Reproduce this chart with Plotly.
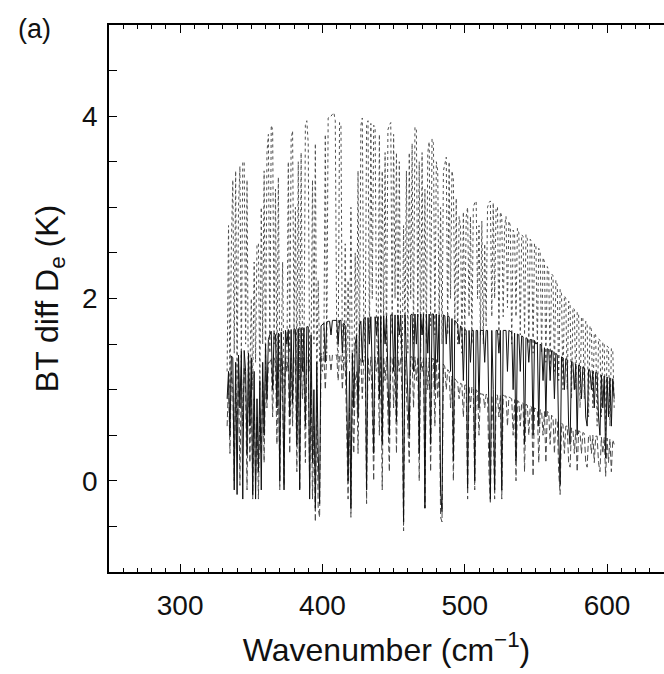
import plotly.graph_objects as go

# Spectral sample grid (cm^-1), 1 cm^-1 spacing from 333 to 605
wavenumber = list(range(333, 606))

# Dotted series
bt_dotted = [
    1.2, 2.8, 1.0, 2.6, 3.3, 1.4, 3.4, 1.1, 3.0, 3.45,   # 333-342
    1.3, 3.5, 3.5, 1.5, 3.3, 0.8, 1.2, 2.0, 1.0, 2.4,    # 343-352
    1.3, 2.6, 2.6, 1.0, 3.0, 1.5, 3.4, 1.2, 3.6, 3.8,    # 353-362
    1.4, 3.9, 3.85, 1.5, 3.2, 1.1, 3.33, 1.2, 1.3, 2.4,  # 363-372
    1.0, 1.3, 1.2, 3.5, 1.4, 3.75, 3.84, 1.6, 3.0, 1.2,  # 373-382
    3.5, 1.1, 3.6, 1.4, 1.3, 3.9, 3.95, 3.7, 1.2, 1.4,   # 383-392
    3.3, 1.5, 3.7, 1.0, 2.2, 1.3, 1.4, 1.2, 1.5, 3.8,    # 393-402
    1.4, 3.98, 4.0, 4.0, 4.02, 4.04, 3.95, 1.6, 1.3, 3.93,  # 403-412
    3.9, 1.3, 1.2, 2.6, 1.1, 2.2, 1.3, 3.0, 1.2, 1.0,    # 413-422
    2.5, 1.4, 3.4, 1.2, 3.9, 3.98, 1.8, 1.4, 3.9, 3.95,  # 423-432
    1.5, 3.92, 2.0, 3.9, 3.88, 1.6, 1.3, 3.8, 1.5, 3.4,  # 433-442
    1.7, 3.6, 1.4, 3.85, 3.9, 3.93, 1.6, 3.8, 2.0, 3.6,  # 443-452
    1.4, 3.5, 1.5, 1.3, 2.8, 1.6, 3.4, 1.4, 3.6, 2.0,    # 453-462
    3.7, 1.5, 3.88, 3.85, 1.8, 3.5, 1.4, 3.6, 1.6, 3.2,  # 463-472
    1.5, 3.6, 3.72, 1.7, 3.75, 3.7, 1.6, 3.5, 3.4, 1.7,  # 473-482
    3.0, 1.5, 3.4, 3.5, 3.55, 1.6, 3.5, 2.0, 3.4, 3.3,   # 483-492
    1.7, 3.1, 1.5, 2.9, 2.8, 1.4, 2.95, 1.6, 2.9, 3.0,   # 493-502
    1.8, 2.9, 1.5, 3.0, 3.05, 3.07, 2.0, 2.8, 1.6, 2.85, # 503-512
    1.5, 2.6, 1.7, 3.0, 3.05, 3.07, 1.8, 3.05, 2.0, 3.0, # 513-522
    3.0, 1.6, 2.95, 2.9, 1.8, 2.8, 2.9, 1.9, 2.85, 2.8,  # 523-532
    1.5, 2.75, 2.7, 1.8, 2.77, 2.72, 1.6, 2.7, 2.68, 1.6,  # 533-542
    2.7, 2.65, 1.5, 2.65, 2.62, 1.4, 2.6, 2.58, 1.5, 2.55,  # 543-552
    2.5, 1.4, 2.45, 2.4, 1.3, 2.35, 2.3, 1.2, 2.27, 2.25,  # 553-562
    1.2, 2.2, 2.15, 1.1, 2.1, 2.05, 1.0, 2.03, 2.0, 1.0,   # 563-572
    1.97, 1.94, 0.9, 1.9, 1.88, 1.0, 1.85, 1.83, 0.8, 1.8, # 573-582
    1.78, 0.9, 1.75, 1.72, 0.7, 1.7, 1.66, 0.8, 1.62, 1.6, # 583-592
    0.6, 1.56, 1.54, 0.7, 1.52, 1.5, 0.5, 1.48, 1.46, 0.6, # 593-602
    1.45, 1.44, 0.8,                                       # 603-605
]

# Solid series
bt_solid = [
    0.9, 1.2, 0.5, 1.37, 1.35, -0.1, 1.3, -0.15, 1.38, 0.8,   # 333-342
    1.42, -0.2, 1.43, 1.2, 0.3, 1.4, 0.6, 1.35, -0.15, 1.2,   # 343-352
    -0.2, 0.9, 0.1, 1.1, -0.1, 1.3, 0.5, 1.5, 0.9, 1.55,      # 353-362
    1.6, 1.64, 1.0, 1.62, 1.6, 0.8, 1.62, 0.0, 1.63, 1.2,     # 363-372
    -0.1, 1.65, 1.5, 1.66, 0.7, 1.66, 0.85, 1.67, 1.66, 0.4,  # 373-382
    1.67, -0.1, 1.68, 1.2, 1.68, 0.6, 1.69, 1.69, -0.2, 1.6,  # 383-392
    0.2, 1.0, -0.3, 1.3, 0.3, -0.25, 1.7, 1.72, 1.73, 1.3,    # 393-402
    1.74, 1.75, 1.75, 1.6, 1.76, 1.76, 1.76, 1.76, 1.5, 1.76, # 403-412
    1.76, 1.4, 1.73, 1.7, 1.0, 0.0, 1.2, -0.3, 1.4, 0.8,      # 413-422
    1.5, 1.6, 0.7, 1.7, 1.75, 1.3, 1.78, 1.79, -0.1, 1.79,    # 423-432
    1.5, 1.8, 1.2, 0.3, 1.8, 1.6, 1.8, 0.9, 1.8, 0.4,         # 433-442
    1.81, 1.5, 1.81, 1.0, 0.5, 1.82, 1.82, 1.2, 1.82, 0.65,   # 443-452
    1.82, 1.6, 1.82, 1.3, -0.45, 1.82, 1.4, 1.0, 0.5, 1.82,   # 453-462
    1.83, 1.2, 1.83, 1.5, 1.83, 0.3, 1.83, 1.6, 1.83, -0.3,   # 463-472
    1.83, 1.4, 1.83, 0.4, 1.83, 1.83, 1.0, 1.83, 1.3, 1.82,   # 473-482
    -0.1, -0.34, 1.82, 1.81, 1.5, 1.81, 1.8, 1.2, 1.78, 0.22, # 483-492
    1.76, 1.74, 1.72, 1.5, 1.7, 1.68, 1.1, 1.66, 1.65, -0.08, # 493-502
    1.65, 1.3, 1.65, 1.65, 0.0, 1.65, 1.65, 0.8, 1.65, 1.65,  # 503-512
    1.65, 1.3, 1.65, 1.65, 0.4, -0.2, 1.65, 1.0, -0.1, 1.65,  # 513-522
    1.65, 1.4, 1.65, -0.1, 1.65, 1.65, 1.65, 1.2, 1.65, 1.64, # 523-532
    1.63, 1.0, 1.62, 0.22, 1.61, 1.6, 1.2, 1.59, 1.58, 0.4,   # 533-542
    1.57, 1.56, 1.3, 1.55, 1.55, 0.5, 1.54, 1.5, 1.52, 0.6,   # 543-552
    1.5, 1.48, 1.1, 1.46, 0.7, 1.45, 1.44, 1.1, 1.43, 1.42,   # 553-562
    0.9, 1.4, 1.38, 0.5, -0.04, 1.36, 1.35, 1.0, 1.34, 1.33,  # 563-572
    0.6, 0.4, 1.31, 1.3, 1.0, 1.28, 0.5, 1.27, 1.26, 0.9,     # 573-582
    1.25, 1.24, 0.7, 0.6, 1.22, 1.21, 1.0, 1.2, 0.8, 1.19,    # 583-592
    1.18, 0.7, 0.5, 1.16, 0.8, 1.15, 0.25, 1.14, 0.7, 1.13,   # 593-602
    0.6, 1.12, 0.9,                                           # 603-605
]

# Dashed series
bt_dashed = [
    0.6, 1.1, 0.3, 1.2, 1.0, 0.0, 1.2, 0.5, 1.25, -0.05,      # 333-342
    1.25, 0.6, 1.25, 1.0, -0.1, 1.2, 0.2, 1.1, -0.2, 0.9,     # 343-352
    0.0, 0.7, -0.2, 0.8, 0.3, 1.1, 0.2, 1.2, 0.8, 1.3,        # 353-362
    1.3, 1.35, 0.7, 1.35, 1.3, 0.4, 1.35, -0.1, 1.35, 0.9,    # 363-372
    -0.05, 1.35, 1.2, 1.35, 0.3, 1.35, 0.6, 1.35, 1.35, 0.1,  # 373-382
    1.35, -0.1, 1.35, 0.9, 1.35, 0.2, 1.35, 1.35, -0.1, 1.2,  # 383-392
    -0.2, 0.6, -0.45, 1.0, -0.3, -0.4, 1.35, 1.38, 1.38, 1.0, # 393-402
    1.38, 1.38, 1.38, 1.2, 1.38, 1.38, 1.38, 1.38, 1.1, 1.38, # 403-412
    1.38, 1.0, 1.36, 1.3, 0.6, -0.2, 0.8, -0.4, 1.0, 0.3,     # 413-422
    1.1, 1.2, 0.3, 1.3, 1.35, 0.9, 1.36, 1.36, -0.25, 1.36,   # 423-432
    1.1, 1.36, 0.8, 0.0, 1.36, 1.2, 1.36, 0.5, 1.36, -0.1,    # 433-442
    1.36, 1.1, 1.36, 0.6, 0.1, 1.36, 1.36, 0.8, 1.36, 0.3,    # 443-452
    1.36, 1.2, 1.36, 0.9, -0.55, 1.36, 1.0, 0.6, 0.2, 1.36,   # 453-462
    1.36, 0.8, 1.36, 1.1, 1.36, 0.0, 1.36, 1.2, 1.35, -0.3,   # 463-472
    1.35, 1.0, 1.35, 0.1, 1.34, 1.34, 0.6, 1.33, 0.9, 1.3,    # 473-482
    -0.4, -0.45, 1.28, 1.25, 1.0, 1.22, 1.2, 0.8, 1.15, 0.0,  # 483-492
    1.12, 1.1, 1.08, 0.9, 1.07, 1.06, 0.7, 1.05, 1.05, -0.2,  # 493-502
    1.04, 0.8, 1.03, 1.02, -0.1, 1.0, 0.98, 0.5, 0.96, 0.95,  # 503-512
    0.95, 0.8, 0.95, 0.94, 0.1, -0.25, 0.94, 0.6, -0.2, 0.94, # 513-522
    0.94, 0.7, 0.94, -0.2, 0.94, 0.93, 0.93, 0.6, 0.92, 0.91, # 523-532
    0.9, 0.5, 0.89, 0.0, 0.88, 0.87, 0.6, 0.86, 0.85, 0.1,    # 533-542
    0.84, 0.83, 0.5, 0.82, 0.81, 0.05, 0.8, 0.79, 0.78, 0.2,  # 543-552
    0.78, 0.77, 0.5, 0.76, 0.2, 0.76, 0.75, 0.4, 0.72, 0.7,   # 553-562
    0.3, 0.68, 0.66, 0.1, -0.15, 0.63, 0.62, 0.3, 0.6, 0.6,   # 563-572
    0.2, 0.15, 0.58, 0.57, 0.3, 0.56, 0.1, 0.55, 0.54, 0.3,   # 573-582
    0.53, 0.52, 0.2, 0.15, 0.5, 0.5, 0.3, 0.5, 0.2, 0.49,     # 583-592
    0.49, 0.2, 0.1, 0.48, 0.3, 0.48, 0.05, 0.47, 0.2, 0.46,   # 593-602
    0.1, 0.45, 0.4,                                           # 603-605
]

x_ticks = [300, 400, 500, 600]
y_ticks = [0, 2, 4]

FONT = "Liberation Sans, Arial, sans-serif"
TXT = "#111111"

fig = go.Figure()
fig.add_trace(go.Scatter(x=wavenumber, y=bt_dotted, mode="lines",
                         line=dict(color="#505050", width=1, dash="dot"),
                         showlegend=False))
fig.add_trace(go.Scatter(x=wavenumber, y=bt_dashed, mode="lines",
                         line=dict(color="#4a4a4a", width=1, dash="6px,3px"),
                         showlegend=False))
fig.add_trace(go.Scatter(x=wavenumber, y=bt_solid, mode="lines",
                         line=dict(color="#111111", width=1),
                         showlegend=False))

axis_common = dict(
    showline=True, linecolor="black", linewidth=1.5,
    ticks="inside", tickcolor="black", tickwidth=1.2,
    showgrid=False, zeroline=False,
    tickfont=dict(family=FONT, size=28, color=TXT),
)

fig.update_xaxes(
    range=[250, 640], tickvals=x_ticks, ticklen=8, mirror="allticks",
    ticklabelstandoff=8,
    minor=dict(dtick=10, tick0=250, ticklen=4, ticks="inside", tickcolor="black", tickwidth=1),
    title=dict(text="Wavenumber (cm<sup>−1</sup>)", standoff=18,
               font=dict(family=FONT, size=32, color=TXT)),
    **axis_common,
)
fig.update_yaxes(
    range=[-1, 5], tickvals=y_ticks, ticklen=8, mirror=False,
    ticklabelstandoff=4,
    minor=dict(dtick=0.5, tick0=0, ticklen=8, ticks="inside", tickcolor="black", tickwidth=1),
    title=dict(text="BT diff D<sub>e</sub> (K)", standoff=14,
               font=dict(family=FONT, size=32, color=TXT)),
    **axis_common,
)

fig.add_annotation(text="(a)", xref="paper", yref="paper", x=-0.168, y=0.992,
                   xanchor="left", yanchor="middle", showarrow=False,
                   font=dict(family=FONT, size=27, color=TXT))

fig.update_layout(
    width=664, height=674,
    margin=dict(l=109, r=0, t=25, b=102),
    plot_bgcolor="white", paper_bgcolor="white",
)

fig.write_html("out.html")
